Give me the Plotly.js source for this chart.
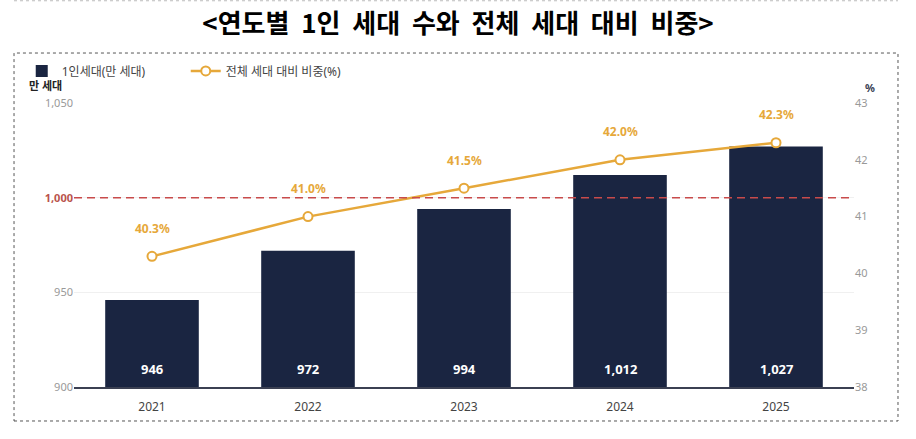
<!DOCTYPE html>
<html>
<head>
<meta charset="utf-8">
<script src="https://cdn.plot.ly/plotly-3.0.1.min.js"></script>
<style>
  html, body { margin: 0; padding: 0; background: #fff; }
  #chart { width: 916px; height: 439px; }
</style>
</head>
<body>
<div id="chart"></div>
<script>
var years = ['2021', '2022', '2023', '2024', '2025'];
var households = [946, 972, 994, 1012, 1027];
var householdLabels = ['946', '972', '994', '1,012', '1,027'];
var shares = [40.3, 41.0, 41.5, 42.0, 42.3];
var shareLabels = ['40.3%', '41.0%', '41.5%', '42.0%', '42.3%'];
var leftTicks = [900, 950, 1000, 1050];
var leftTickText = ['900', '950', '<b><span style="color:#b9534c">1,000</span></b>', '1,050'];
var titleWords = ['&lt;연도별', '1인', '세대', '수와', '전체', '세대', '대비', '비중&gt;'];

var navy = '#1a2541';
var gold = '#e6a83a';
var font = 'Noto Sans, Noto Sans CJK KR, sans-serif';

var bars = {
  type: 'bar',
  name: '1인세대(만 세대)',
  x: years,
  y: households,
  width: 0.6,
  marker: { color: navy },
  hoverinfo: 'skip'
};

var line = {
  type: 'scatter',
  mode: 'lines+markers',
  name: '전체 세대 대비 비중(%)',
  x: years,
  y: shares,
  yaxis: 'y2',
  line: { color: gold, width: 2.5 },
  marker: { size: 9, color: '#fff', line: { color: gold, width: 2 } },
  hoverinfo: 'skip'
};

var notes = [];
years.forEach(function (yr, i) {
  // share label above each point
  notes.push({
    x: i, y: shares[i], xref: 'x', yref: 'y2',
    text: '<b>' + shareLabels[i] + '</b>', showarrow: false, yshift: 28,
    font: { color: gold, size: 12, family: font }
  });
  // value label at the foot of each bar
  notes.push({
    x: i, y: leftTicks[0], xref: 'x', yref: 'y',
    text: '<b>' + householdLabels[i] + '</b>', showarrow: false, yshift: 18,
    font: { color: '#fff', size: 13, family: font }
  });
});

notes.push(
  { text: '<b>만 세대</b>', xref: 'paper', yref: 'paper', x: -0.036, y: 1.06,
    xanchor: 'center', yanchor: 'middle',
    showarrow: false, font: { size: 11, color: '#222', family: font } },
  { text: '<b>%</b>', xref: 'paper', yref: 'paper', x: 1.0205, y: 1.056,
    xanchor: 'center', yanchor: 'middle',
    showarrow: false, font: { size: 11, color: '#3a3f55', family: font } }
);

var layout = {
  width: 916,
  height: 439,
  margin: { l: 74, r: 62, t: 103, b: 52 },
  paper_bgcolor: '#fff',
  plot_bgcolor: '#fff',
  font: { family: font, color: '#555' },
  title: {
    text: '<b>' + titleWords.join('\u00a0 ') + '</b>',
    font: { size: 26, color: '#000', family: 'Noto Sans CJK KR, sans-serif' },
    x: 0.5, xanchor: 'center', y: 0.945, yanchor: 'middle'
  },
  showlegend: true,
  legend: {
    orientation: 'h', x: -0.067, y: 1.113, xanchor: 'left', yanchor: 'middle',
    font: { size: 12, color: '#444', family: font },
    entrywidth: 119, entrywidthmode: 'pixels'
  },
  xaxis: {
    type: 'category',
    range: [-0.5, 4.5],
    showline: true, linecolor: '#3b4052', linewidth: 1.5,
    showgrid: false,
    ticks: '',
    ticklabelstandoff: 8,
    tickfont: { size: 12, color: '#444' },
    fixedrange: true
  },
  yaxis: {
    range: [900, 1050],
    tickvals: leftTicks,
    ticktext: leftTickText,
    showgrid: true, gridcolor: '#f0f0f0',
    zeroline: false,
    ticks: '',
    tickfont: { size: 11, color: '#999' },
    fixedrange: true
  },
  yaxis2: {
    overlaying: 'y', side: 'right',
    range: [38, 43], dtick: 1,
    showgrid: false, zeroline: false,
    ticks: '',
    tickfont: { size: 11, color: '#999' },
    fixedrange: true
  },
  annotations: notes,
  shapes: [
    { type: 'line', xref: 'paper', yref: 'y', x0: 0, x1: 1, y0: 1000, y1: 1000,
      line: { color: '#c84b4b', width: 1.5, dash: '8px,5px' } },
    { type: 'rect', xref: 'paper', yref: 'paper', x0: -0.0769, x1: 1.0564, y0: -0.1197, y1: 1.176,
      line: { color: '#555', width: 1, dash: 'dot' }, layer: 'below' },
    { type: 'line', xref: 'paper', yref: 'paper', x0: -0.0769, x1: 1.0564, y0: 1.36, y1: 1.36,
      line: { color: '#bbb', width: 1, dash: 'dot' } }
  ]
};

Plotly.newPlot('chart', [bars, line], layout, { displayModeBar: false, staticPlot: true });
</script>
</body>
</html>
